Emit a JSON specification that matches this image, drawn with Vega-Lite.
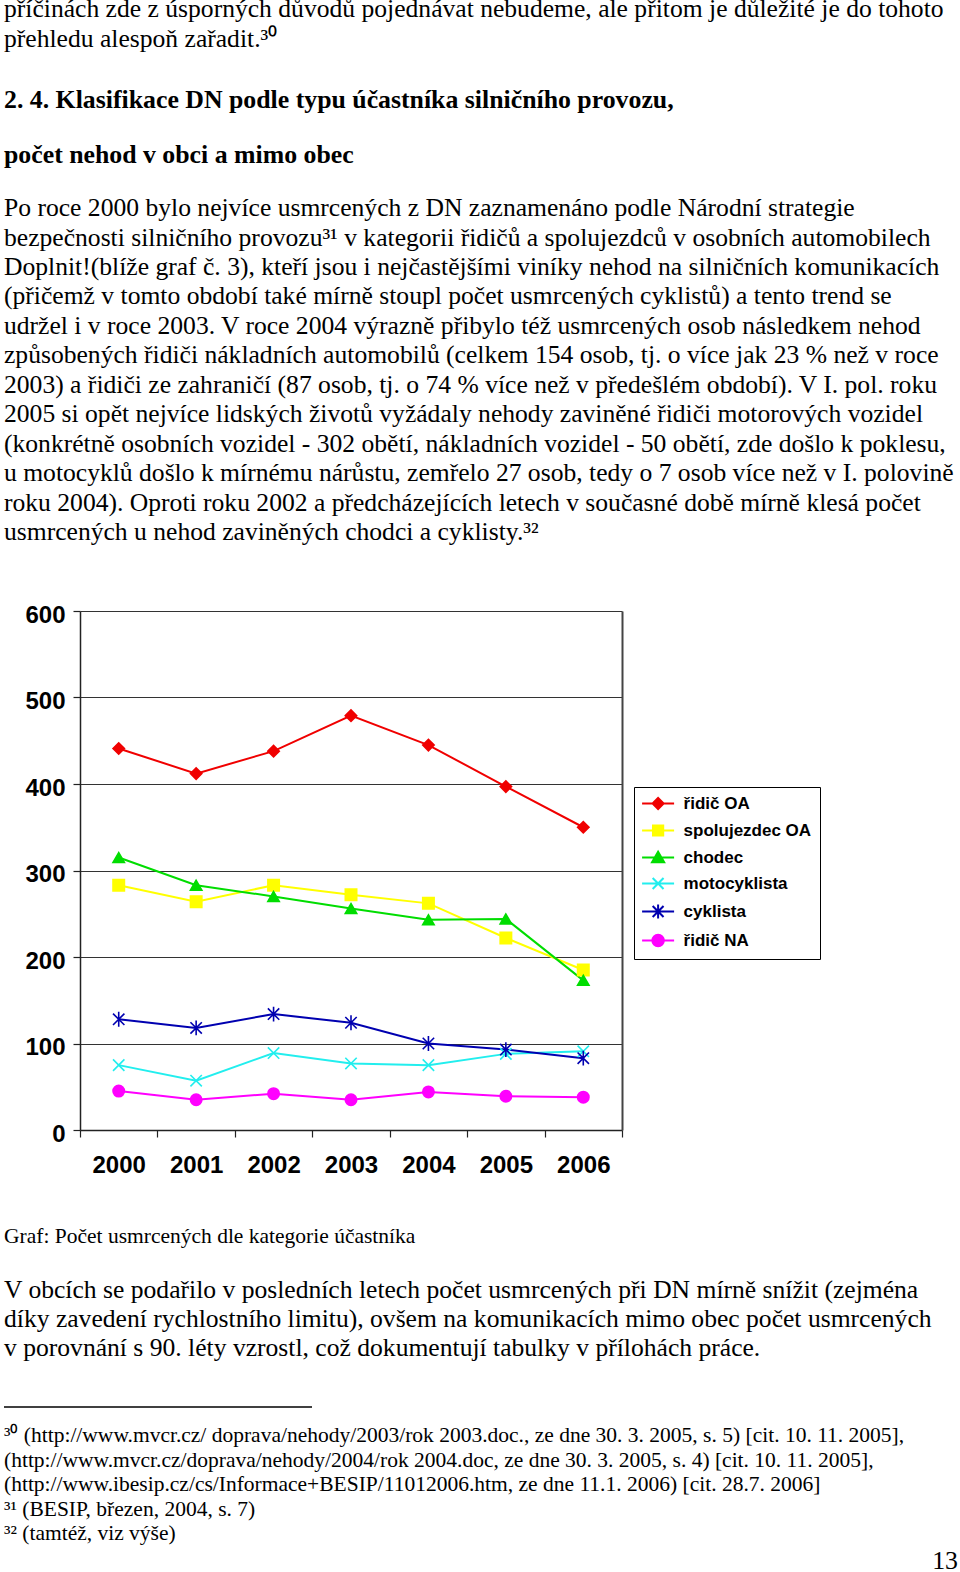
{
  "$schema": "https://vega.github.io/schema/vega-lite/v6.json",
  "padding": {"left": 3, "top": -3, "right": 0, "bottom": 0},
  "autosize": {"type": "pad"},
  "background": "white",
  "bounds": "flush",
  "spacing": 0,
  "config": {"view": {"stroke": null}},
  "datasets": {
    "p1": [
      {"n": 1, "t": "příčinách zde z úsporných důvodů pojednávat nebudeme, ale přitom je důležité je do tohoto"},
      {"n": 2, "t": "přehledu alespoň zařadit.³⁰"}
    ],
    "head": [
      {"n": 1, "t": "2. 4. Klasifikace DN podle typu účastníka silničního provozu,"},
      {"n": 2, "t": "počet nehod v obci a mimo obec"}
    ],
    "p2": [
      {"n": 1, "t": "Po roce 2000 bylo nejvíce usmrcených z DN zaznamenáno podle Národní strategie"},
      {"n": 2, "t": "bezpečnosti silničního provozu³¹ v kategorii řidičů a spolujezdců v osobních automobilech"},
      {"n": 3, "t": "Doplnit!(blíže graf č. 3), kteří jsou i nejčastějšími viníky nehod na silničních komunikacích"},
      {"n": 4, "t": "(přičemž v tomto období také mírně stoupl počet usmrcených cyklistů) a tento trend se"},
      {"n": 5, "t": "udržel i v roce 2003. V roce 2004 výrazně přibylo též usmrcených osob následkem nehod"},
      {"n": 6, "t": "způsobených řidiči nákladních automobilů (celkem 154 osob, tj. o více jak 23 % než v roce"},
      {"n": 7, "t": "2003) a řidiči ze zahraničí (87 osob, tj. o 74 % více než v předešlém období). V I. pol. roku"},
      {"n": 8, "t": "2005 si opět nejvíce lidských životů vyžádaly nehody zaviněné řidiči motorových vozidel"},
      {"n": 9, "t": "(konkrétně osobních vozidel - 302 obětí, nákladních vozidel - 50 obětí, zde došlo k poklesu,"},
      {"n": 10, "t": "u motocyklů došlo k mírnému nárůstu, zemřelo 27 osob, tedy o 7 osob více než v I. polovině"},
      {"n": 11, "t": "roku 2004). Oproti roku 2002 a předcházejících letech v současné době mírně klesá počet"},
      {"n": 12, "t": "usmrcených u nehod zaviněných chodci a cyklisty.³²"}
    ],
    "caption": [
      {"n": 1, "t": "Graf: Počet usmrcených dle kategorie účastníka"}
    ],
    "p3": [
      {"n": 1, "t": "V obcích se podařilo v posledních letech počet usmrcených při DN mírně snížit (zejména"},
      {"n": 2, "t": "díky zavedení rychlostního limitu), ovšem na komunikacích mimo obec počet usmrcených"},
      {"n": 3, "t": "v porovnání s 90. léty vzrostl, což dokumentují tabulky v přílohách práce."}
    ],
    "notes": [
      {"n": 1, "t": "³⁰ (http://www.mvcr.cz/ doprava/nehody/2003/rok 2003.doc., ze dne 30. 3. 2005, s. 5) [cit. 10. 11. 2005],"},
      {"n": 2, "t": "(http://www.mvcr.cz/doprava/nehody/2004/rok 2004.doc, ze dne 30. 3. 2005, s. 4) [cit. 10. 11. 2005],"},
      {"n": 3, "t": "(http://www.ibesip.cz/cs/Informace+BESIP/11012006.htm, ze dne 11.1. 2006) [cit. 28.7. 2006]"},
      {"n": 4, "t": "³¹ (BESIP, březen, 2004, s. 7)"},
      {"n": 5, "t": "³² (tamtéž, viz výše)"}
    ],
    "page": [{"n": 1, "t": "13"}],
    "sep": [{"from": 0, "to": 1}],
    "empty": [{"t": ""}],
    "chart": [
      {"rok": "2000", "kategorie": "řidič OA", "pocet": 441},
      {"rok": "2001", "kategorie": "řidič OA", "pocet": 412},
      {"rok": "2002", "kategorie": "řidič OA", "pocet": 438},
      {"rok": "2003", "kategorie": "řidič OA", "pocet": 479},
      {"rok": "2004", "kategorie": "řidič OA", "pocet": 445},
      {"rok": "2005", "kategorie": "řidič OA", "pocet": 397},
      {"rok": "2006", "kategorie": "řidič OA", "pocet": 350},
      {"rok": "2000", "kategorie": "spolujezdec OA", "pocet": 283},
      {"rok": "2001", "kategorie": "spolujezdec OA", "pocet": 264},
      {"rok": "2002", "kategorie": "spolujezdec OA", "pocet": 283},
      {"rok": "2003", "kategorie": "spolujezdec OA", "pocet": 272},
      {"rok": "2004", "kategorie": "spolujezdec OA", "pocet": 262},
      {"rok": "2005", "kategorie": "spolujezdec OA", "pocet": 222},
      {"rok": "2006", "kategorie": "spolujezdec OA", "pocet": 185},
      {"rok": "2000", "kategorie": "chodec", "pocet": 315},
      {"rok": "2001", "kategorie": "chodec", "pocet": 283},
      {"rok": "2002", "kategorie": "chodec", "pocet": 270},
      {"rok": "2003", "kategorie": "chodec", "pocet": 256},
      {"rok": "2004", "kategorie": "chodec", "pocet": 243},
      {"rok": "2005", "kategorie": "chodec", "pocet": 244},
      {"rok": "2006", "kategorie": "chodec", "pocet": 173},
      {"rok": "2000", "kategorie": "motocyklista", "pocet": 75},
      {"rok": "2001", "kategorie": "motocyklista", "pocet": 57},
      {"rok": "2002", "kategorie": "motocyklista", "pocet": 89},
      {"rok": "2003", "kategorie": "motocyklista", "pocet": 77},
      {"rok": "2004", "kategorie": "motocyklista", "pocet": 75},
      {"rok": "2005", "kategorie": "motocyklista", "pocet": 88},
      {"rok": "2006", "kategorie": "motocyklista", "pocet": 91},
      {"rok": "2000", "kategorie": "cyklista", "pocet": 128},
      {"rok": "2001", "kategorie": "cyklista", "pocet": 118},
      {"rok": "2002", "kategorie": "cyklista", "pocet": 134},
      {"rok": "2003", "kategorie": "cyklista", "pocet": 124},
      {"rok": "2004", "kategorie": "cyklista", "pocet": 100},
      {"rok": "2005", "kategorie": "cyklista", "pocet": 93},
      {"rok": "2006", "kategorie": "cyklista", "pocet": 83},
      {"rok": "2000", "kategorie": "řidič NA", "pocet": 45},
      {"rok": "2001", "kategorie": "řidič NA", "pocet": 35},
      {"rok": "2002", "kategorie": "řidič NA", "pocet": 42},
      {"rok": "2003", "kategorie": "řidič NA", "pocet": 35},
      {"rok": "2004", "kategorie": "řidič NA", "pocet": 44},
      {"rok": "2005", "kategorie": "řidič NA", "pocet": 39},
      {"rok": "2006", "kategorie": "řidič NA", "pocet": 38}
    ]
  },
  "vconcat": [
    {
      "width": 957, "height": 58.9,
      "data": {"name": "p1"},
      "mark": {"type": "text", "align": "left", "baseline": "alphabetic", "font": "Liberation Serif", "fontSize": 25.6, "dy": 2.6, "color": "black"},
      "encoding": {
        "x": {"value": 0},
        "y": {"field": "n", "type": "ordinal", "axis": null, "scale": {"type": "point", "padding": 0.5}},
        "text": {"field": "t"}
      }
    },
    {
      "width": 957, "height": 110,
      "data": {"name": "head"},
      "mark": {"type": "text", "align": "left", "baseline": "alphabetic", "font": "Liberation Serif", "fontSize": 25.8, "fontWeight": "bold", "dy": 21.9, "color": "black"},
      "encoding": {
        "x": {"value": 0},
        "y": {"field": "n", "type": "ordinal", "axis": null, "scale": {"type": "point", "padding": 0.5}},
        "text": {"field": "t"}
      }
    },
    {
      "width": 957, "height": 353.4,
      "data": {"name": "p2"},
      "mark": {"type": "text", "align": "left", "baseline": "alphabetic", "font": "Liberation Serif", "fontSize": 25.6, "dy": 32.4, "color": "black"},
      "encoding": {
        "x": {"value": 0},
        "y": {"field": "n", "type": "ordinal", "axis": null, "scale": {"type": "point", "padding": 0.5}},
        "text": {"field": "t"}
      }
    },
    {
      "width": 10, "height": 87.7,
      "data": {"name": "empty"},
      "mark": {"type": "text"},
      "encoding": {"text": {"field": "t"}}
    },
    {
      "width": 618, "height": 519,
      "data": {"name": "chart"},
      "encoding": {
        "x": {
          "field": "rok", "type": "ordinal",
          "scale": {"type": "band", "paddingInner": 0, "paddingOuter": 0, "range": [76, 618]},
          "axis": {
            "title": null, "labelAngle": 0, "tickBand": "extent", "grid": false,
            "domainColor": "#222222", "domainWidth": 1.5,
            "tickColor": "#222222", "tickWidth": 1.2, "tickSize": 7,
            "labelFont": "Liberation Sans", "labelFontSize": 24, "labelFontWeight": "bold",
            "labelColor": "black", "labelPadding": 16
          }
        },
        "y": {
          "field": "pocet", "type": "quantitative",
          "scale": {"domain": [0, 600], "nice": false},
          "axis": {
            "title": null, "values": [0, 100, 200, 300, 400, 500, 600], "offset": -76,
            "grid": true, "gridColor": "#333333", "gridWidth": 1.2,
            "domainColor": "#222222", "domainWidth": 1.5,
            "tickColor": "#222222", "tickWidth": 1.2, "tickSize": 7,
            "labelFont": "Liberation Sans", "labelFontSize": 24, "labelFontWeight": "bold",
            "labelColor": "black", "labelPadding": 8, "labelOffset": 4
          }
        },
        "color": {
          "field": "kategorie", "type": "nominal",
          "scale": {
            "domain": ["řidič OA", "spolujezdec OA", "chodec", "motocyklista", "cyklista", "řidič NA"],
            "range": ["#F00000", "#FFFF00", "#00DD00", "#22EEEE", "#0000B0", "#FF00FF"]
          },
          "legend": {
            "title": null, "orient": "none", "legendX": 630, "legendY": 787,
            "strokeColor": "black", "fillColor": "white", "padding": 8,
            "labelFont": "Liberation Sans", "labelFontSize": 17, "labelFontWeight": "bold",
            "labelColor": "black", "labelLimit": 300,
            "symbolSize": 164, "symbolOffset": 7.6, "labelOffset": 17, "rowPadding": 7,
            "symbolStrokeWidth": 2, "symbolOpacity": 1,
            "symbolType": {"expr": "datum.value === 'řidič OA' ? 'M-2.5,0H2.5M-0.86,0L0,-0.86L0.86,0L0,0.86Z' : datum.value === 'spolujezdec OA' ? 'M-2.5,0H2.5M-0.8,-0.8H0.8V0.8H-0.8Z' : datum.value === 'chodec' ? 'M-2.5,0H2.5M0,-0.9L0.95,0.75H-0.95Z' : datum.value === 'motocyklista' ? 'M-2.5,0H2.5M-0.85,-0.85L0.85,0.85M-0.85,0.85L0.85,-0.85' : datum.value === 'cyklista' ? 'M-2.5,0H2.5M-0.85,-0.85L0.85,0.85M-0.85,0.85L0.85,-0.85M0,-1.1V1.1' : 'M-2.5,0H2.5M-0.9,0A0.9,0.9,0,1,0,0.9,0A0.9,0.9,0,1,0,-0.9,0Z'"},
            "symbolFillColor": {"expr": "datum.value === 'řidič OA' ? '#F00000' : datum.value === 'spolujezdec OA' ? '#FFFF00' : datum.value === 'chodec' ? '#00DD00' : datum.value === 'motocyklista' ? '#22EEEE' : datum.value === 'cyklista' ? '#0000B0' : '#FF00FF'"},
            "symbolStrokeColor": {"expr": "datum.value === 'řidič OA' ? '#F00000' : datum.value === 'spolujezdec OA' ? '#FFFF00' : datum.value === 'chodec' ? '#00DD00' : datum.value === 'motocyklista' ? '#22EEEE' : datum.value === 'cyklista' ? '#0000B0' : '#FF00FF'"}
          }
        }
      },
      "resolve": {"axis": {"y": "independent"}},
      "layer": [
        {"mark": {"type": "line", "strokeWidth": 2}},
        {
          "mark": {"type": "point", "filled": true, "size": 130, "strokeWidth": 1.6, "opacity": 1},
          "encoding": {
            "y": {
              "field": "pocet", "type": "quantitative",
              "scale": {"domain": [0, 600], "nice": false},
              "axis": {"orient": "right", "title": null, "labels": false, "ticks": false, "grid": false, "domain": true, "domainColor": "#444444", "domainWidth": 2}
            },
            "shape": {
              "field": "kategorie", "type": "nominal", "legend": null,
              "scale": {
                "range": ["triangle-up", "M-1,-1L1,1M-1,1L1,-1M0,-1.3V1.3", "M-1,-1L1,1M-1,1L1,-1", "square", "circle", "diamond"]
              }
            },
            "stroke": {
              "field": "kategorie", "type": "nominal", "legend": null,
              "scale": {
                "range": ["#00DD00", "#0000B0", "#22EEEE", "#FFFF00", "#FF00FF", "#F00000"]
              }
            }
          }
        }
      ]
    },
    {
      "width": 957, "height": 140,
      "data": {"name": "caption"},
      "mark": {"type": "text", "align": "left", "baseline": "alphabetic", "font": "Liberation Serif", "fontSize": 21.5, "dy": 43, "color": "black"},
      "encoding": {
        "x": {"value": 0},
        "y": {"field": "n", "type": "ordinal", "axis": null, "scale": {"type": "point", "padding": 0.5}},
        "text": {"field": "t"}
      }
    },
    {
      "width": 957, "height": 86.4,
      "data": {"name": "p3"},
      "mark": {"type": "text", "align": "left", "baseline": "alphabetic", "font": "Liberation Serif", "fontSize": 25.6, "dy": 13.6, "color": "black"},
      "encoding": {
        "x": {"value": 0},
        "y": {"field": "n", "type": "ordinal", "axis": null, "scale": {"type": "point", "padding": 0.5}},
        "text": {"field": "t"}
      }
    },
    {
      "width": 308, "height": 50,
      "data": {"name": "sep"},
      "mark": {"type": "rule", "color": "black", "strokeWidth": 1.3},
      "encoding": {
        "x": {"field": "from", "type": "quantitative", "axis": null, "scale": {"domain": [0, 1]}},
        "x2": {"field": "to"},
        "y": {"value": "height"}
      }
    },
    {
      "width": 957, "height": 122.5,
      "data": {"name": "notes"},
      "mark": {"type": "text", "align": "left", "baseline": "alphabetic", "font": "Liberation Serif", "fontSize": 21.5, "dy": 23, "color": "black"},
      "encoding": {
        "x": {"value": 0},
        "y": {"field": "n", "type": "ordinal", "axis": null, "scale": {"type": "point", "padding": 0.5}},
        "text": {"field": "t"}
      }
    },
    {
      "width": 954, "height": 44,
      "data": {"name": "page"},
      "mark": {"type": "text", "align": "right", "baseline": "alphabetic", "font": "Liberation Serif", "fontSize": 25.8, "dy": 17, "color": "black"},
      "encoding": {
        "x": {"value": "width"},
        "y": {"field": "n", "type": "ordinal", "axis": null, "scale": {"type": "point", "padding": 0.5}},
        "text": {"field": "t"}
      }
    }
  ]
}
